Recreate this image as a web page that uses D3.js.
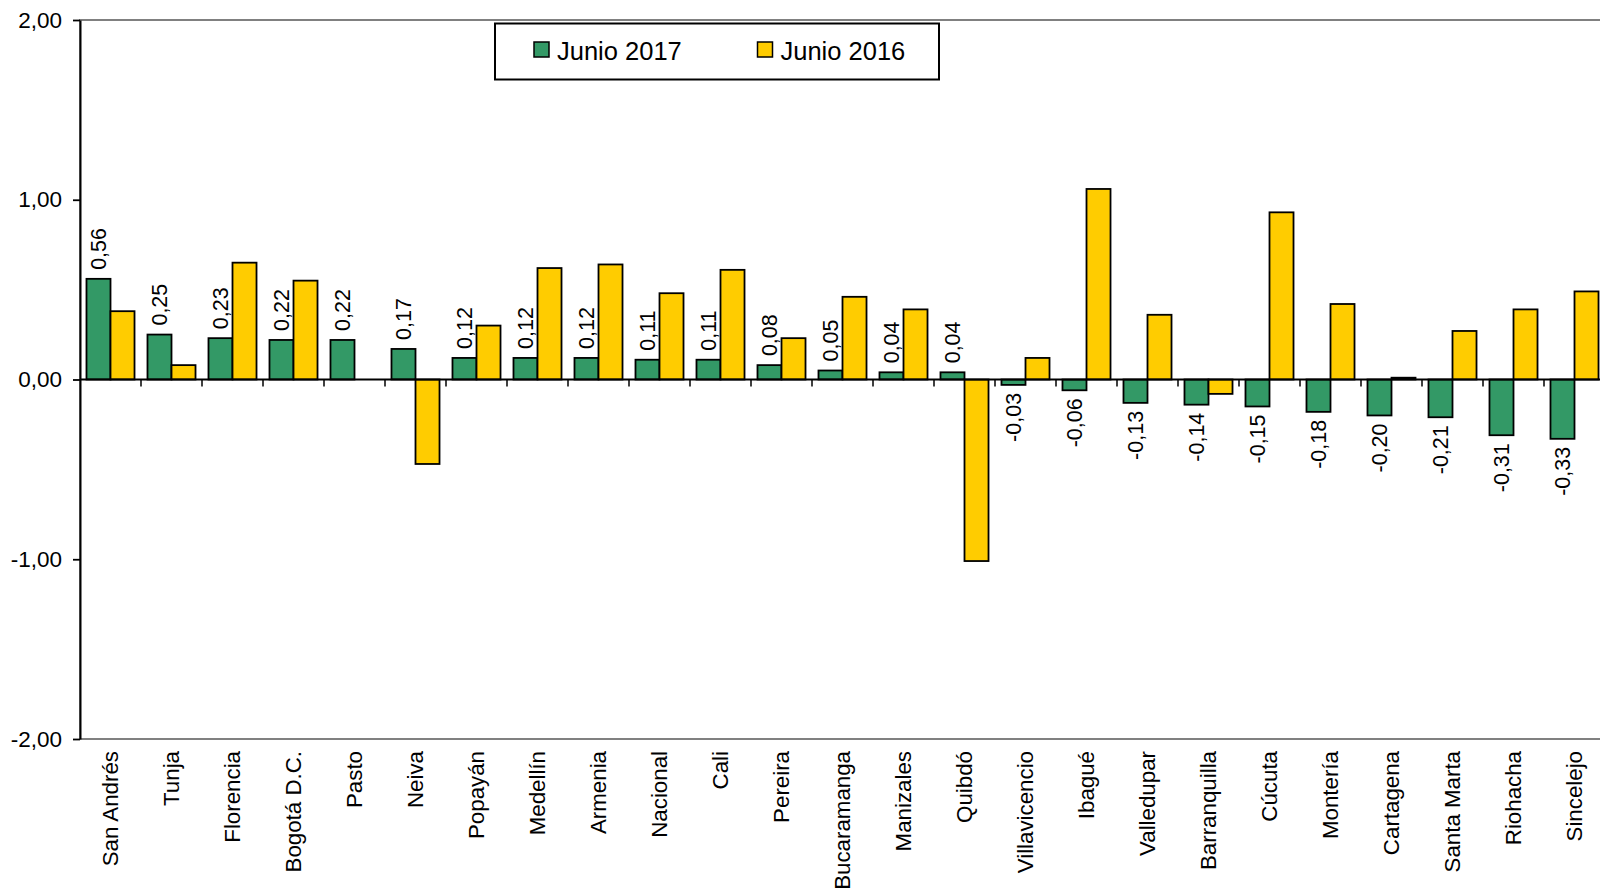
<!DOCTYPE html>
<html>
<head>
<meta charset="utf-8">
<script src="https://cdn.jsdelivr.net/npm/d3@7"></script>
<style>
  body { margin: 0; background: #fff; }
  svg { display: block; }
  text { font-family: Arial, "Liberation Sans", sans-serif; fill: #000; }
</style>
</head>
<body>
<svg id="chart" width="1600" height="893"></svg>
<script>
const categories = ["San Andrés","Tunja","Florencia","Bogotá D.C.","Pasto","Neiva","Popayán","Medellín","Armenia","Nacional","Cali","Pereira","Bucaramanga","Manizales","Quibdó","Villavicencio","Ibagué","Valledupar","Barranquilla","Cúcuta","Montería","Cartagena","Santa Marta","Riohacha","Sincelejo"];
const junio2017 = [0.56,0.25,0.23,0.22,0.22,0.17,0.12,0.12,0.12,0.11,0.11,0.08,0.05,0.04,0.04,-0.03,-0.06,-0.13,-0.14,-0.15,-0.18,-0.20,-0.21,-0.31,-0.33];
const junio2016 = [0.38,0.08,0.65,0.55,null,-0.47,0.30,0.62,0.64,0.48,0.61,0.23,0.46,0.39,-1.01,0.12,1.06,0.36,-0.08,0.93,0.42,0.01,0.27,0.39,0.49];
const seriesNames = ["Junio 2017","Junio 2016"];
const seriesColors = ["#339966","#FFCC00"];
const yTicks = [2, 1, 0, -1, -2];

(function () {
const locale = d3.formatLocale({decimal: ",", thousands: ".", grouping: [3], currency: ["$", ""], minus: "-"});
const fmt = locale.format(".2f");

const svg = d3.select("#chart");
const pLeft = 80, pRight = 1605, pTop = 20, pBottom = 739;

const x = d3.scaleBand().domain(categories).range([pLeft, pRight]).paddingInner(0).paddingOuter(0);
const xs = d3.scaleBand().domain(seriesNames).range([0, x.bandwidth()]).paddingInner(0).paddingOuter(0.27);
const y = d3.scaleLinear().domain([-2, 2]).range([pBottom, pTop]);

// plot area border (gray)
svg.append("rect")
  .attr("x", pLeft).attr("y", pTop)
  .attr("width", pRight - pLeft).attr("height", pBottom - pTop)
  .attr("fill", "none").attr("stroke", "#808080").attr("stroke-width", 2);

const data = categories.map((c, i) => ({c, vals: [junio2017[i], junio2016[i]]}));

// bars
const groups = svg.append("g").selectAll("g").data(data).join("g")
  .attr("transform", d => `translate(${x(d.c)},0)`);
groups.selectAll("rect")
  .data(d => d.vals.map((v, k) => ({v, k})).filter(e => e.v !== null))
  .join("rect")
  .attr("x", e => xs(seriesNames[e.k]))
  .attr("width", xs.bandwidth())
  .attr("y", e => y(Math.max(0, e.v)))
  .attr("height", e => Math.abs(y(e.v) - y(0)))
  .attr("fill", e => seriesColors[e.k])
  .attr("stroke", "#000").attr("stroke-width", 1.8);

// zero line
svg.append("line")
  .attr("x1", pLeft).attr("x2", pRight)
  .attr("y1", y(0)).attr("y2", y(0))
  .attr("stroke", "#000").attr("stroke-width", 2);

// category tick marks on zero line
svg.append("g").selectAll("line").data(categories.slice(1))
  .join("line")
  .attr("x1", d => x(d)).attr("x2", d => x(d))
  .attr("y1", y(0)).attr("y2", y(0) + 7)
  .attr("stroke", "#000").attr("stroke-width", 1.5);

// data labels (Junio 2017)
svg.append("g").selectAll("text").data(data).join("text")
  .attr("transform", d => {
    const v = d.vals[0];
    const cx = x(d.c) + xs(seriesNames[0]) + xs.bandwidth() / 2;
    const cy = v >= 0 ? y(v) - 9 : y(v) + 8;
    return `translate(${cx},${cy}) rotate(-90)`;
  })
  .attr("text-anchor", d => d.vals[0] >= 0 ? "start" : "end")
  .attr("dy", "0.35em")
  .style("font-size", "21.5px")
  .text(d => fmt(d.vals[0]));

// y axis
const yAxis = d3.axisLeft(y).tickValues(yTicks).tickSize(7).tickSizeOuter(0).tickPadding(11).tickFormat(fmt);
const gy = svg.append("g").attr("transform", `translate(${pLeft},0)`).call(yAxis);
gy.select(".domain").attr("stroke", "#000").attr("stroke-width", 2);
gy.selectAll(".tick line").attr("stroke", "#000").attr("stroke-width", 1.8);
gy.selectAll(".tick text").style("font-size", "22.5px").style("font-family", "Arial, 'Liberation Sans', sans-serif").attr("fill", "#000");

// x axis category labels at bottom
const xAxis = d3.axisBottom(x).tickSize(0).tickSizeOuter(0);
const gx = svg.append("g").attr("transform", `translate(0,${pBottom})`).call(xAxis);
gx.select(".domain").remove();
gx.selectAll(".tick text")
  .attr("transform", "rotate(-90)")
  .attr("x", -12).attr("y", 0).attr("dy", "0.35em")
  .attr("text-anchor", "end")
  .attr("fill", "#000")
  .style("font-size", "22.3px")
  .style("font-family", "Arial, 'Liberation Sans', sans-serif");

// legend
const lg = svg.append("g");
lg.append("rect").attr("x", 495).attr("y", 23.5).attr("width", 444).attr("height", 56)
  .attr("fill", "#fff").attr("stroke", "#000").attr("stroke-width", 2);
const legendX = [534, 757.5];
const items = lg.selectAll("g.item").data(seriesNames).join("g").attr("class", "item")
  .attr("transform", (d, i) => `translate(${legendX[i]},42)`);
items.append("rect").attr("width", 15).attr("height", 15)
  .attr("fill", (d, i) => seriesColors[i]).attr("stroke", "#000").attr("stroke-width", 1.5);
items.append("text").attr("x", 23).attr("y", 18)
  .style("font-size", "25.5px").text(d => d);
})();
</script>
</body>
</html>
